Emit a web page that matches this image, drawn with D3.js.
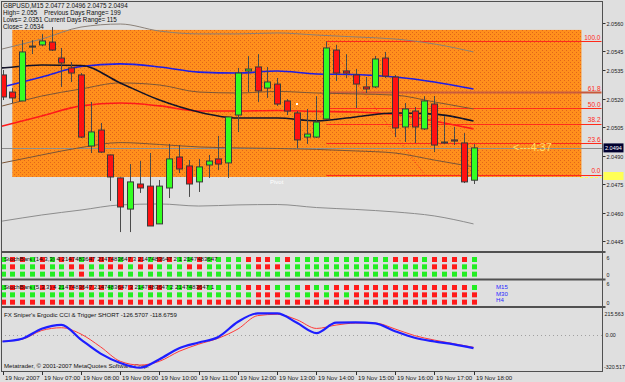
<!DOCTYPE html>
<html>
<head>
<meta charset="utf-8">
<script src="https://cdn.jsdelivr.net/npm/d3@7"></script>
<style>
html, body { margin: 0; padding: 0; background: #dfdfdf; }
svg { display: block; font-family: 'Liberation Sans', Arial, sans-serif; }
</style>
</head>
<body>
<svg id="chart" width="625" height="382"></svg>
<script>
// GBPUSD M15 candles, bars 0..48 (06:00 .. 18:00)
const opens  = [2.05324,2.05234,2.05187,2.05476,2.05482,2.05497,2.05413,2.05361,2.05324,2.04950,2.05034,2.04903,2.04782,2.04618,2.04750,2.04739,2.04540,2.04729,2.04892,2.04845,2.04761,2.04850,2.04882,2.04861,2.05113,2.05345,2.05366,2.05255,2.05276,2.05187,2.05124,2.04997,2.04997,2.05092,2.05455,2.05345,2.05324,2.05261,2.05261,2.05413,2.05313,2.05050,2.05134,2.05040,2.05171,2.04966,2.04982,2.04966,2.04770];
const highs  = [2.05350,2.05255,2.05508,2.05508,2.05540,2.05576,2.05466,2.05392,2.05334,2.05182,2.05071,2.04905,2.04784,2.04855,2.04871,2.04913,2.04771,2.04961,2.04955,2.04876,2.04882,2.04903,2.05003,2.05103,2.05361,2.05424,2.05434,2.05366,2.05308,2.05197,2.05134,2.05145,2.05213,2.05500,2.05482,2.05434,2.05355,2.05313,2.05424,2.05445,2.05324,2.05176,2.05155,2.05213,2.05213,2.05108,2.05050,2.05018,2.04960];
const lows   = [2.05192,2.05176,2.05187,2.05434,2.05476,2.05450,2.05261,2.05287,2.04992,2.04913,2.04913,2.04661,2.04497,2.04497,2.04703,2.04529,2.04540,2.04676,2.04808,2.04682,2.04708,2.04782,2.04824,2.04782,2.05024,2.05234,2.05182,2.05203,2.05161,2.05113,2.04939,2.04961,2.04992,2.05087,2.05292,2.05308,2.05150,2.05229,2.05255,2.05308,2.04997,2.04971,2.04966,2.05034,2.04918,2.04961,2.04955,2.04755,2.04750];
const closes = [2.05208,2.05203,2.05445,2.05476,2.05503,2.05455,2.05387,2.05334,2.04997,2.05024,2.04918,2.04787,2.04629,2.04761,2.04729,2.04529,2.04739,2.04882,2.04829,2.04750,2.04840,2.04871,2.04855,2.05103,2.05334,2.05355,2.05240,2.05287,2.05171,2.05134,2.04982,2.05013,2.05076,2.05466,2.05334,2.05334,2.05276,2.05250,2.05408,2.05318,2.05045,2.05145,2.05050,2.05187,2.04955,2.04971,2.04976,2.04761,2.04940];

// indicator lines, read once an hour (bars 0,4,...,48)
const lineBars   = [0,4,8,12,16,20,24,28,32,36,40,44,48];
const maBlack    = [2.05361,2.05376,2.05374,2.05282,2.05192,2.05129,2.05097,2.05097,2.05082,2.05103,2.05124,2.05118,2.05082];
const maBlue     = [2.05261,2.05313,2.05368,2.05382,2.05366,2.05339,2.05334,2.05345,2.05329,2.05326,2.05313,2.05287,2.05250];
const maRed      = [2.05055,2.05108,2.05161,2.05176,2.05161,2.05134,2.05134,2.05137,2.05132,2.05129,2.05116,2.05082,2.05040];
const bandInUp   = [2.05161,2.05213,2.05250,2.05282,2.05271,2.05234,2.05229,2.05237,2.05229,2.05224,2.05218,2.05182,2.05145];
const bandInLo   = [2.04861,2.04903,2.04942,2.04968,2.04958,2.04945,2.04940,2.04937,2.04932,2.04924,2.04913,2.04876,2.04840];
const bandOutUp  = [2.05461,2.05513,2.05576,2.05592,2.05555,2.05540,2.05540,2.05545,2.05534,2.05524,2.05513,2.05487,2.05445];
const bandOutLo  = [2.04555,2.04587,2.04613,2.04640,2.04645,2.04634,2.04640,2.04642,2.04626,2.04616,2.04603,2.04582,2.04540];

// fibo and rectangle objects
const fibLevels = [100.0, 61.8, 50.0, 38.2, 23.6, 0.0];
const fibHigh = 2.0550, fibLow = 2.0480;
const fibFromBar = 33, fibToBar = 43;
const rectBars = [1, 59];
const rectPrices = [2.04787, 2.05561];
const bidPrice = 2.0494;

const priceTicks = ['2.0560','2.0545','2.0535','2.0520','2.0505','2.0490','2.0475','2.0460','2.0445'];
const timeLabels = ['19 Nov 2007','19 Nov 07:00','19 Nov 08:00','19 Nov 09:00','19 Nov 10:00','19 Nov 11:00','19 Nov 12:00','19 Nov 13:00','19 Nov 14:00','19 Nov 15:00','19 Nov 16:00','19 Nov 17:00','19 Nov 18:00'];
const timeBars = [0,4,8,12,16,20,24,28,32,36,40,44,48];

// StochBars: one string per row, g = green, r = red, bars 0..48
const stoch14 = [
  'grrgrgrrgrrrgrrgrrggrggggrrrgrggggggggggrrrgrrrrg',
  'grggrggrrggrrgrrgggrrgggggrrrgggggggggggggggrrrgg',
  'ggggggggrgggggggggggggggggggggggggggggggggggggggg'
];
const stoch5 = [
  'grrgrrgrrrrgrrgrrgggrggggrrrgggrggrrrrrrrrrrrrrrg',
  'ggggggggggggggggggggggggggrrrgggrgrgrrrrrrrrrrrrr',
  'rrrrrrrrrrrrrrrrrrrrrrrrrrrrrrrrrrrrrrrrrrrrrrrrr'
];

// FX Sniper's Ergodic CCI & Trigger, every second bar
const ergBars    = d3.range(0, 49, 2);
const ergodic    = [-62,-35,62,100,-43,-180,-271,-318,-235,-128,-72,-18,130,212,212,120,20,122,124,114,38,-26,-62,-90,-126.57];
const ergTrigger = [-60,-40,45,72,10,-115,-255,-292,-255,-158,-88,-30,60,190,203,150,65,98,117,117,60,-5,-48,-84,-118.68];

const svg = d3.select('#chart');
const axisX = 602.5;

const x = d3.scaleLinear().domain([0, 48]).range([2.5, 473.5]);
const y = d3.scaleLinear().domain([2.0445, 2.0560]).range([241, 22.5]);
const yErg = d3.scaleLinear().domain([-320.517, 215.563]).range([368, 313]);

// orange dotted texture
const defs = svg.append('defs');
const pat = defs.append('pattern').attr('id', 'dots').attr('width', 4).attr('height', 4)
  .attr('patternUnits', 'userSpaceOnUse');
pat.append('rect').attr('width', 4).attr('height', 4).attr('fill', '#ff901c');
pat.append('rect').attr('x', 0).attr('y', 0).attr('width', 1).attr('height', 1).attr('fill', '#e2641a');
pat.append('rect').attr('x', 2).attr('y', 2).attr('width', 1).attr('height', 1).attr('fill', '#e2641a');

const main = svg.append('g');
main.append('clipPath').attr('id', 'mainclip').append('rect')
  .attr('x', 1).attr('y', 2).attr('width', axisX - 1).attr('height', 249);
const plot = main.append('g').attr('clip-path', 'url(#mainclip)');

// rectangle object
plot.append('rect')
  .attr('x', x(rectBars[0])).attr('y', y(rectPrices[1]))
  .attr('width', x(rectBars[1]) - x(rectBars[0]))
  .attr('height', y(rectPrices[0]) - y(rectPrices[1]))
  .attr('fill', 'url(#dots)');

// fibo levels
const fibPrice = lv => fibLow + (fibHigh - fibLow) * lv / 100;
plot.selectAll('.fib').data(fibLevels).enter().append('line')
  .attr('x1', x(fibFromBar)).attr('x2', axisX - 1)
  .attr('y1', d => Math.round(y(fibPrice(d))) + 0.5)
  .attr('y2', d => Math.round(y(fibPrice(d))) + 0.5)
  .attr('stroke', d => d === 61.8 ? '#c85a3c' : '#ff2a1a')
  .attr('stroke-width', d => d === 61.8 ? 2 : 1);
plot.append('line')
  .attr('x1', x(fibFromBar)).attr('y1', y(fibHigh))
  .attr('x2', x(fibToBar)).attr('y2', y(fibLow))
  .attr('stroke', '#ff2a1a').attr('stroke-dasharray', '1,2');
plot.selectAll('.fibtxt').data(fibLevels).enter().append('text')
  .attr('x', axisX - 2).attr('y', d => y(fibPrice(d)) - 1.5)
  .attr('text-anchor', 'end').attr('font-size', 6.5).attr('fill', '#ff2a1a')
  .text(d => d.toFixed(1));

// bid line
plot.append('line')
  .attr('x1', 1).attr('x2', axisX)
  .attr('y1', Math.round(y(bidPrice)) + 0.5).attr('y2', Math.round(y(bidPrice)) + 0.5)
  .attr('stroke', '#8c8c8c');

// indicator lines
const lineGen = d3.line().x(d => x(d[0])).y(d => y(d[1])).curve(d3.curveMonotoneX);
const drawLine = (vals, color, w) => {
  const pts = lineBars.map((b, i) => [b, vals[i]]);
  pts.unshift([-0.3, vals[0] - (vals[1] - vals[0]) * 0.075]);
  plot.append('path').attr('d', lineGen(pts)).attr('fill', 'none')
    .attr('stroke', color).attr('stroke-width', w);
};
drawLine(bandOutUp, '#8a8078', 1);
drawLine(bandOutLo, '#8c8c8c', 1);
drawLine(bandInUp, '#7a5538', 1);
drawLine(bandInLo, '#7a5538', 1);
drawLine(maRed, '#ff1a1a', 1.6);
drawLine(maBlue, '#1e1ee6', 1.6);
drawLine(maBlack, '#141428', 1.6);

// candles
const bars = d3.range(opens.length);
plot.selectAll('.wick').data(bars).enter().append('line')
  .attr('x1', k => Math.round(x(k)) + 0.5).attr('x2', k => Math.round(x(k)) + 0.5)
  .attr('y1', k => y(highs[k])).attr('y2', k => y(lows[k]))
  .attr('stroke', '#4a4a4a');
plot.selectAll('.body').data(bars).enter().append('rect')
  .attr('x', k => Math.round(x(k)) - 2.5)
  .attr('y', k => y(Math.max(opens[k], closes[k])))
  .attr('width', 6)
  .attr('height', k => Math.max(1, Math.abs(y(opens[k]) - y(closes[k]))))
  .attr('fill', k => closes[k] > opens[k] ? '#33ff22' : (closes[k] < opens[k] ? '#ff1111' : '#4a4a4a'))
  .attr('stroke', '#3a3a3a').attr('stroke-width', 1);

// labels on the chart
plot.append('text').attr('x', 513).attr('y', y(bidPrice) + 3)
  .attr('font-size', 11).attr('fill', '#ffdf6a').text('<---4:37');
plot.append('text').attr('x', 270).attr('y', 184)
  .attr('font-size', 6).attr('fill', '#ffffff').text('Pivot');
plot.append('rect').attr('x', 296).attr('y', 103).attr('width', 2).attr('height', 2).attr('fill', '#ffffff');

// info text
const info = svg.append('g').attr('font-size', 6.3).attr('fill', '#101010');
info.append('text').attr('x', 3).attr('y', 8).text('GBPUSD,M15  2.0477 2.0496 2.0475 2.0494');
info.append('text').attr('x', 3).attr('y', 15).text('High= 2.055');
info.append('text').attr('x', 44).attr('y', 15).text('Previous Days Range= 199');
info.append('text').attr('x', 3).attr('y', 22).text('Lows= 2.0351');
info.append('text').attr('x', 44).attr('y', 22).text('Current Days Range= 115');
info.append('text').attr('x', 3).attr('y', 29).text('Close= 2.0534');

// price axis
const pa = svg.append('g').attr('font-size', 5.5).attr('fill', '#202020');
priceTicks.forEach(t => {
  const py = Math.round(y(+t)) + 0.5;
  pa.append('line').attr('x1', axisX).attr('x2', axisX + 3).attr('y1', py).attr('y2', py).attr('stroke', '#303030');
  pa.append('text').attr('x', axisX + 4).attr('y', py + 2).text(t);
});
pa.append('rect').attr('x', axisX + 1).attr('y', y(bidPrice) - 4.5).attr('width', 20).attr('height', 9).attr('fill', '#000030');
pa.append('text').attr('x', axisX + 2.5).attr('y', y(bidPrice) + 2).attr('fill', '#ffffff').text('2.0494');
pa.append('rect').attr('x', axisX + 1).attr('y', 172).attr('width', 20).attr('height', 8).attr('fill', '#ffff55');
svg.append('line').attr('x1', 580).attr('x2', axisX).attr('y1', 177.5).attr('y2', 177.5)
  .attr('stroke', '#ffff55').attr('stroke-dasharray', '3,2');

// StochBars panels
const rowBand1 = d3.scaleBand().domain([0, 1, 2]).range([256, 278]);
const rowBand2 = d3.scaleBand().domain([0, 1, 2]).range([284, 306]);
const drawStoch = (rows, band) => {
  rows.forEach((row, r) => {
    svg.selectAll(null).data(row.split('').slice(0, 49)).enter().append('rect')
      .attr('x', (c, k) => Math.round(x(k)) - 2)
      .attr('y', band(r) + 1)
      .attr('width', 5).attr('height', 5)
      .attr('fill', c => c === 'g' ? '#22ee22' : '#ff1a1a');
  });
};
drawStoch(stoch14, rowBand1);
drawStoch(stoch5, rowBand2);

const ptxt = svg.append('g').attr('font-size', 6.1).attr('fill', '#101010');
ptxt.append('text').attr('x', 4).attr('y', 261).text('StochBars (14,3,3) 4 2147483647 2147483647 3 2147483647 2 1 2147483647');
ptxt.append('text').attr('x', 4).attr('y', 289).text('StochBars (5,3,3) 4 2147483647 2147483647 3 2147483647 2 2147483647 1');
ptxt.append('text').attr('x', 4).attr('y', 317).text("FX Sniper's Ergodic CCI & Trigger SHORT -126.5707 -118.6759");
ptxt.append('text').attr('x', 4).attr('y', 368).text('Metatrader, © 2001-2007 MetaQuotes Software Corp.');

const tf = svg.append('g').attr('font-size', 6.1).attr('fill', '#2a2aff');
['M15', 'M30', 'H4'].forEach((t, i) => tf.append('text').attr('x', 496).attr('y', 289 + i * 6.5).text(t));

const rl = svg.append('g').attr('font-size', 5.3).attr('fill', '#202020');
rl.append('text').attr('x', axisX + 4).attr('y', 260).text('6');
rl.append('text').attr('x', axisX + 4).attr('y', 277).text('0');
rl.append('text').attr('x', axisX + 4).attr('y', 286).text('6');
rl.append('text').attr('x', axisX + 4).attr('y', 305).text('0');
rl.append('text').attr('x', axisX + 2).attr('y', 316).text('215.563');
rl.append('text').attr('x', axisX + 3).attr('y', yErg(0) + 2).text('0.00');
rl.append('text').attr('x', axisX + 1.5).attr('y', 369).text('-320.517');

// Ergodic panel
svg.append('line').attr('x1', 1).attr('x2', axisX).attr('y1', Math.round(yErg(0)) + 0.5).attr('y2', Math.round(yErg(0)) + 0.5)
  .attr('stroke', '#a0a0a0').attr('stroke-dasharray', '1,3');
const ergLine = d3.line().x((d, i) => x(ergBars[i])).y(d => yErg(d)).curve(d3.curveMonotoneX);
svg.append('path').attr('d', ergLine(ergTrigger)).attr('fill', 'none').attr('stroke', '#ff3a3a').attr('stroke-width', 1);
svg.append('path').attr('d', ergLine(ergodic)).attr('fill', 'none').attr('stroke', '#1e1eff').attr('stroke-width', 2.2);

// frames and separators
const frame = svg.append('g').attr('stroke', '#505050').attr('fill', 'none');
frame.append('line').attr('x1', 1.5).attr('x2', 1.5).attr('y1', 1).attr('y2', 372);
frame.append('line').attr('x1', axisX).attr('x2', axisX).attr('y1', 1).attr('y2', 372);
frame.append('line').attr('x1', 1).attr('x2', axisX).attr('y1', 1.5).attr('y2', 1.5);
[252, 279.5, 307].forEach(sy => {
  frame.append('line').attr('x1', 1).attr('x2', axisX + 3).attr('y1', sy).attr('y2', sy).attr('stroke-width', 2);
});
frame.append('line').attr('x1', 1).attr('x2', axisX).attr('y1', 371.5).attr('y2', 371.5);

// time axis
const ta = svg.append('g').attr('font-size', 6.1).attr('fill', '#202020');
timeLabels.forEach((t, i) => {
  const tx = Math.round(x(timeBars[i])) + 0.5;
  ta.append('line').attr('x1', tx).attr('x2', tx).attr('y1', 371.5).attr('y2', 375).attr('stroke', '#303030');
  ta.append('text').attr('x', tx + 1.5).attr('y', 380).text(t);
});
</script>
</body>
</html>
